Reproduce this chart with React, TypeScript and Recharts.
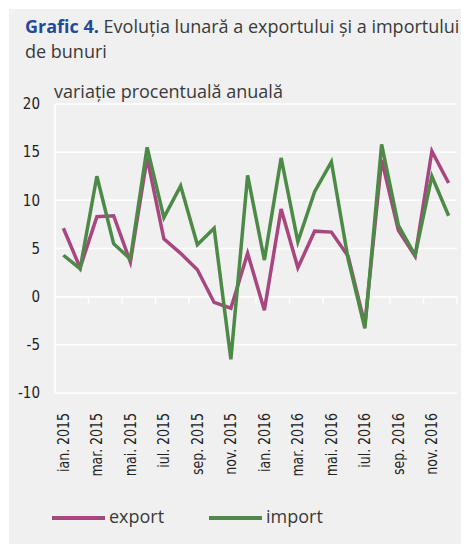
import React from "react";
import {
  CartesianGrid,
  Line,
  LineChart,
  ReferenceLine,
  XAxis,
  YAxis,
} from "recharts";

const months = [
  "ian. 2015", "feb. 2015", "mar. 2015", "apr. 2015", "mai. 2015", "iun. 2015",
  "iul. 2015", "aug. 2015", "sep. 2015", "oct. 2015", "nov. 2015", "dec. 2015",
  "ian. 2016", "feb. 2016", "mar. 2016", "apr. 2016", "mai. 2016", "iun. 2016",
  "iul. 2016", "aug. 2016", "sep. 2016", "oct. 2016", "nov. 2016", "dec. 2016",
];
const exportValues = [
  7.1, 3.0, 8.3, 8.4, 3.6, 14.4, 6.0, 4.5, 2.8, -0.6, -1.2, 4.5,
  -1.4, 9.1, 3.0, 6.8, 6.7, 4.2, -2.9, 14.2, 6.9, 4.2, 15.1, 11.8,
];
const importValues = [
  4.3, 2.9, 12.5, 5.5, 3.9, 15.5, 8.2, 11.5, 5.4, 7.1, -6.5, 12.6,
  3.8, 14.4, 5.7, 10.9, 14.0, 3.9, -3.3, 15.8, 7.4, 4.3, 12.5, 8.4,
];
const yTicks = [-10, -5, 0, 5, 10, 15, 20];
const xLabelIdx = [0, 2, 4, 6, 8, 10, 12, 14, 16, 18, 20, 22];
const xTickMarks = [1.5, 3.5, 5.5, 7.5, 9.5, 11.5, 13.5, 15.5, 17.5, 19.5, 21.5, 23.5];

const data = months.map((m, i) => ({
  i,
  month: m,
  export: exportValues[i],
  import: importValues[i],
}));

const EXPORT_COLOR = "#a8477f";
const IMPORT_COLOR = "#4d8a47";
const NARROW = "'Liberation Sans Narrow', 'DejaVu Sans Condensed', sans-serif";
const TEXT = "'Open Sans', 'Noto Sans', sans-serif";

const XTick = (props: any) => {
  const { x, y, payload } = props;
  return (
    <text
      transform={`translate(${x},${y + 12}) rotate(-90) scale(0.93,1)`}
      textAnchor="end"
      dy="0.35em"
      fontSize={15}
      fontFamily={NARROW}
      fill="#222"
    >
      {months[payload.value]}
    </text>
  );
};

const App = () => {
  return (
    <div
      style={{
        position: "relative",
        width: 460,
        height: 535,
        marginLeft: 1,
        marginTop: 1,
        background: "#f0f0f0",
        fontFamily: TEXT,
      }}
    >
      <div
        style={{
          position: "absolute",
          left: 16,
          top: 5,
          width: 440,
          fontSize: 18,
          lineHeight: "25px",
          color: "#3a3a3a",
        }}
      >
        <span style={{ color: "#1f4a9c", fontWeight: 700 }}>Grafic 4.</span>{" "}
        Evoluția lunară a exportului și a importului de bunuri
      </div>
      <div
        style={{
          position: "absolute",
          left: 45,
          top: 70,
          fontSize: 18,
          color: "#3a3a3a",
        }}
      >
        variație procentuală anuală
      </div>
      <LineChart
        width={460}
        height={535}
        data={data}
        margin={{ top: 95, right: 12, bottom: 71, left: 0 }}
      >
        <CartesianGrid vertical={false} stroke="#ffffff" strokeWidth={1.5} />
        <XAxis
          dataKey="i"
          type="number"
          domain={[-0.5, 23.5]}
          ticks={xLabelIdx}
          interval={0}
          height={80}
          axisLine={false}
          tickLine={false}
          tick={<XTick />}
        />
        <YAxis
          domain={[-10, 20]}
          ticks={yTicks}
          width={46}
          tickSize={0}
          tickMargin={15}
          tickLine={false}
          axisLine={{ stroke: "#ffffff", strokeWidth: 1.5 }}
          tick={{ fontSize: 15, fontFamily: NARROW, fill: "#222" }}
        />
        <ReferenceLine y={0} stroke="#ffffff" strokeWidth={1.5} />
        {xTickMarks.map((t) => (
          <ReferenceLine
            key={t}
            segment={[
              { x: t, y: 0 },
              { x: t, y: -0.7 },
            ]}
            stroke="#ffffff"
            strokeWidth={1.5}
          />
        ))}
        <Line
          type="linear"
          dataKey="export"
          stroke={EXPORT_COLOR}
          strokeWidth={3.5}
          dot={false}
          isAnimationActive={false}
        />
        <Line
          type="linear"
          dataKey="import"
          stroke={IMPORT_COLOR}
          strokeWidth={3.5}
          dot={false}
          isAnimationActive={false}
        />
      </LineChart>
      <div style={{ position: "absolute", left: 43, top: 507, width: 53, height: 4, background: EXPORT_COLOR }} />
      <div style={{ position: "absolute", left: 100, top: 495, fontSize: 18, color: "#3a3a3a" }}>export</div>
      <div style={{ position: "absolute", left: 200, top: 507, width: 53, height: 4, background: IMPORT_COLOR }} />
      <div style={{ position: "absolute", left: 257, top: 495, fontSize: 18, color: "#3a3a3a" }}>import</div>
    </div>
  );
};

export default App;
